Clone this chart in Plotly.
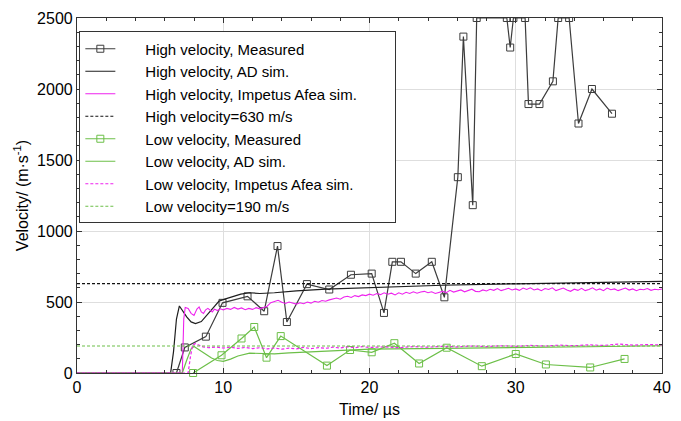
import plotly.graph_objects as go

# ---------------- data ----------------
t_hi_meas = [6.8, 7.37, 8.81, 9.95, 11.66, 12.8, 13.71, 14.35, 15.72, 17.25, 18.73, 20.15,
             20.99, 21.56, 22.15, 23.16, 24.26, 25.12, 26.04, 26.42, 27.06, 27.33, 29.39,
             29.62, 29.84, 30.64, 30.87, 31.62, 32.54, 32.9, 33.65, 34.29, 35.21, 36.58]
v_hi_meas = [0, 180, 256, 494, 540, 435, 894, 359, 626, 588, 692, 700,
             423, 783, 783, 700, 783, 533, 1379, 2369, 1182, 2500, 2500,
             2292, 2500, 2500, 1894, 1894, 2054, 2500, 2500, 1757, 2000, 1826]

t_hi_ad = [0, 6.4, 6.6, 6.8, 7.0, 7.2, 7.5, 7.8, 8.1, 8.5, 8.9, 9.3, 9.7, 10.1, 10.6,
           11.2, 11.8, 12.5, 13.5, 15, 17, 20, 25, 30, 35, 40]
v_hi_ad = [0, 0, 150, 380, 472, 440, 395, 360, 348, 362, 410, 465, 505, 520, 535,
           555, 565, 560, 565, 578, 590, 602, 618, 628, 636, 645]

t_hi_imp = [0, 7.2, 7.3, 7.4, 7.6, 7.8, 8.0, 8.2, 8.35, 8.5, 8.65, 8.8, 8.95, 9.1, 9.25, 9.4,
            9.6, 9.8, 10.0, 10.25, 10.5, 10.75, 11.0, 11.25, 11.5, 11.75, 12.0, 12.25, 12.5,
            12.75, 13.0, 13.25, 13.5, 13.75, 14.0, 14.25, 14.5, 14.75, 15.0, 15.25, 15.5,
            15.75, 16.0, 16.25, 16.5, 16.75, 17.0, 17.25, 17.5, 17.75, 18.0, 18.25, 18.5,
            18.75, 19.0, 19.25, 19.5, 19.75, 20.0, 20.25, 20.5, 20.75, 21.0, 21.25, 21.5,
            21.75, 22.0, 22.25, 22.5, 22.75, 23.0, 23.25, 23.5, 23.75, 24.0, 24.25, 24.5,
            24.75, 25.0, 25.25, 25.5, 25.75, 26.0, 26.25, 26.5, 26.75, 27.0, 27.25, 27.5,
            27.75, 28.0, 28.25, 28.5, 28.75, 29.0, 29.25, 29.5, 29.75, 30.0, 30.25, 30.5,
            30.75, 31.0, 31.25, 31.5, 31.75, 32.0, 32.25, 32.5, 32.75, 33.0, 33.25, 33.5,
            33.75, 34.0, 34.25, 34.5, 34.75, 35.0, 35.25, 35.5, 35.75, 36.0, 36.25, 36.5,
            36.75, 37.0, 37.25, 37.5, 37.75, 38.0, 38.25, 38.5, 38.75, 39.0, 39.25, 39.5,
            39.75, 40.0]
v_hi_imp = [0, 0, 380, 462, 455, 420, 405, 450, 465, 430, 420, 445, 455, 440, 430, 450,
            440, 452, 445, 455, 448, 462, 450, 458, 446, 455, 448, 460, 452,
            462, 470, 495, 505, 512, 498, 490, 500, 492, 485, 495, 488,
            500, 492, 505, 498, 510, 505, 515, 520, 528, 520, 535, 540,
            532, 545, 538, 550, 545, 555, 548, 560, 552, 565, 555, 562,
            550, 565, 555, 568, 560, 572, 562, 570, 575, 565, 572, 560,
            568, 575, 566, 582, 570, 578, 585, 572, 580, 590, 575, 572,
            585, 578, 590, 582, 595, 580, 588, 597, 585, 592, 582, 598,
            588, 600, 585, 592, 580, 595, 588, 600, 580, 590, 598, 585,
            575, 590, 582, 596, 580, 588, 600, 583, 592, 580, 598, 586,
            592, 580, 588, 598, 584, 592, 580, 590, 586, 595, 582, 590,
            586, 592]

t_lo_meas = [7.94, 9.88, 11.25, 12.12, 12.96, 13.93, 17.09, 18.67, 20.15, 21.7, 23.39,
             25.28, 27.68, 30.0, 32.06, 35.09, 37.44]
v_lo_meas = [0, 125, 243, 324, 108, 260, 52, 162, 146, 210, 67,
             178, 48, 134, 60, 39, 99]

t_lo_ad = [0, 7.2, 7.5, 7.8, 8.0, 8.4, 8.8, 9.2, 9.6, 10.0, 10.5, 11.0, 11.8, 12.5, 13.5,
           14.5, 16, 18, 20, 25, 30, 35, 40]
v_lo_ad = [0, 0, 90, 170, 186, 160, 130, 105, 88, 82, 98, 120, 140, 138, 135,
           142, 150, 160, 168, 174, 178, 185, 192]

t_lo_imp = [0, 7.6, 7.75, 7.9, 8.1, 8.3, 8.6, 9.0, 9.5, 10, 10.5, 11, 11.5, 12, 12.5, 13,
            13.5, 14, 14.5, 15, 15.5, 16, 16.5, 17, 17.5, 18, 18.5, 19, 19.5, 20, 21, 22,
            23, 24, 25, 26, 27, 28, 29, 30, 31, 32, 33, 34, 35, 36, 37, 38, 39, 40]
v_lo_imp = [0, 0, 110, 195, 208, 200, 184, 178, 183, 176, 182, 174, 180, 172, 178, 170,
            176, 168, 175, 170, 180, 172, 178, 174, 182, 176, 184, 178, 186, 180, 184, 178,
            186, 182, 188, 184, 190, 186, 192, 188, 194, 190, 196, 192, 198, 194, 204, 196,
            200, 198]

t_ref = [0, 40]
v_hi_ref = [630, 630]
v_lo_ref = [190, 190]

names = ["High velocity, Measured", "High velocity, AD sim.",
         "High velocity, Impetus Afea sim.", "High velocity=630 m/s",
         "Low velocity, Measured", "Low velocity, AD sim.",
         "Low velocity, Impetus Afea sim.", "Low velocity=190 m/s"]

# ---------------- styles ----------------
C_HM = "#3c3c3c"
C_HA = "#1e1e1e"
C_MAG = "#ee22ee"
C_GRN = "#6cbf48"
PAD = "\u00a0" * 6
TAIL = "\u00a0" * 8

fig = go.Figure()
fig.add_trace(go.Scatter(x=t_hi_meas, y=v_hi_meas, mode="lines+markers", name=PAD + names[0],
                         line=dict(color=C_HM, width=1.2),
                         marker=dict(symbol="square-open", size=7, color=C_HM, line=dict(width=1))))
fig.add_trace(go.Scatter(x=t_hi_ad, y=v_hi_ad, mode="lines", name=PAD + names[1],
                         line=dict(color=C_HA, width=1.2)))
fig.add_trace(go.Scatter(x=t_hi_imp, y=v_hi_imp, mode="lines", name=PAD + names[2] + TAIL,
                         line=dict(color=C_MAG, width=1.1)))
fig.add_trace(go.Scatter(x=t_ref, y=v_hi_ref, mode="lines", name=PAD + names[3],
                         line=dict(color="#111111", width=1.2, dash="3px,2px")))
fig.add_trace(go.Scatter(x=t_lo_meas, y=v_lo_meas, mode="lines+markers", name=PAD + names[4],
                         line=dict(color=C_GRN, width=1.2), cliponaxis=False,
                         marker=dict(symbol="square-open", size=7, color=C_GRN, line=dict(width=1))))
fig.add_trace(go.Scatter(x=t_lo_ad, y=v_lo_ad, mode="lines", name=PAD + names[5],
                         line=dict(color=C_GRN, width=1.2)))
fig.add_trace(go.Scatter(x=t_lo_imp, y=v_lo_imp, mode="lines", name=PAD + names[6],
                         line=dict(color=C_MAG, width=1.2, dash="3px,2px")))
fig.add_trace(go.Scatter(x=t_ref, y=v_lo_ref, mode="lines", name=PAD + names[7],
                         line=dict(color=C_GRN, width=1.2, dash="3px,2px")))

FONT = "Liberation Sans, Arial, sans-serif"
axis_common = dict(showline=True, linecolor="#333333", linewidth=1.2, mirror="ticks",
                   ticks="inside", ticklen=5, tickcolor="#333333", showgrid=True,
                   gridcolor="#dedede", gridwidth=1, zeroline=False, automargin=False,
                   ticklabeloverflow="allow",
                   tickfont=dict(size=16, color="black", family=FONT))

fig.update_xaxes(range=[0, 40], dtick=10, tick0=0,
                 minor=dict(dtick=2, ticks="inside", ticklen=3, tickcolor="#333333", showgrid=False),
                 title=dict(text="Time/ µs", font=dict(size=16, color="black", family=FONT), standoff=8),
                 **axis_common)
fig.update_yaxes(range=[0, 2500], dtick=500, tick0=0,
                 minor=dict(dtick=100, ticks="inside", ticklen=3, tickcolor="#333333", showgrid=False),
                 title=dict(text="Velocity/ (m·s<sup>-1</sup>)", font=dict(size=16, color="black", family=FONT), standoff=4),
                 **axis_common)

# the page body adds an 8 px margin, so the figure is 8 px smaller and the margins compensate
fig.update_layout(
    width=673, height=413,
    margin=dict(l=69, r=19, t=10, b=48),
    paper_bgcolor="white", plot_bgcolor="white",
    font=dict(family=FONT, color="black"),
    legend=dict(x=0.004, y=0.962, xanchor="left", yanchor="top",
                bgcolor="white", bordercolor="#333333", borderwidth=1,
                font=dict(size=15, color="black", family=FONT),
                itemwidth=30, tracegroupgap=0),
    showlegend=True,
)

fig.write_html("out.html")
